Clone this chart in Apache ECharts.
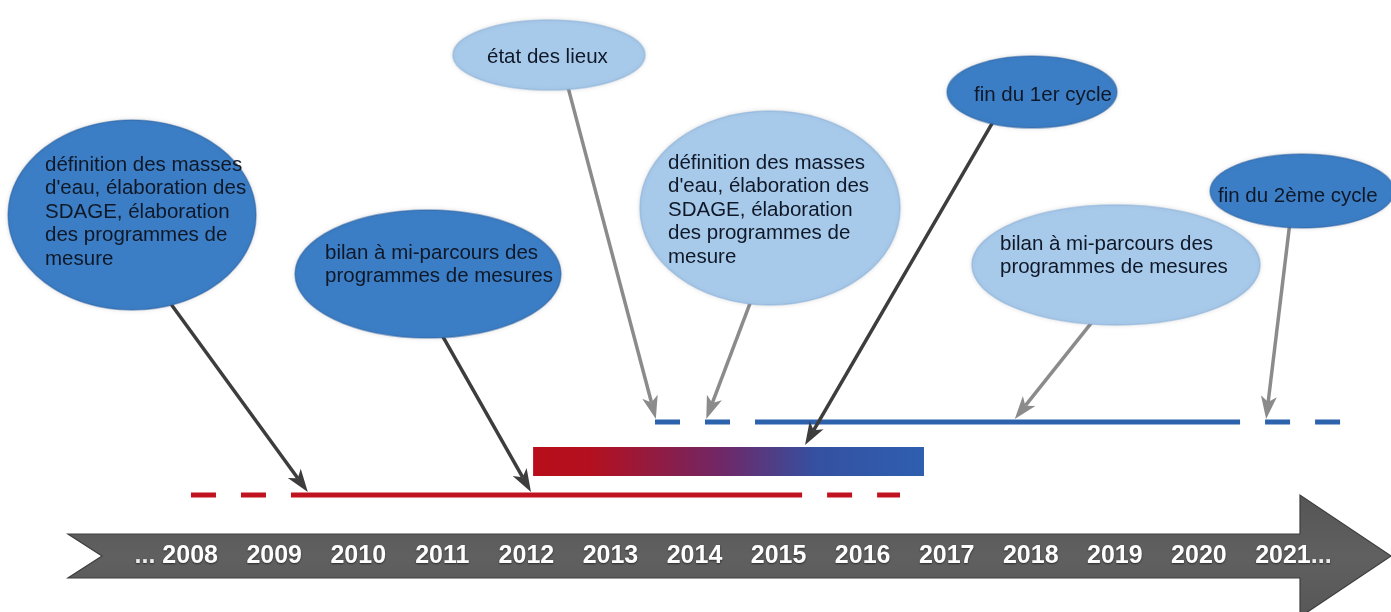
<!DOCTYPE html>
<html><head><meta charset="utf-8">
<script src="https://cdn.jsdelivr.net/npm/echarts@6/dist/echarts.min.js"></script>
<style>html,body{margin:0;padding:0;background:#fff}#c{width:1391px;height:612px}</style>
</head><body><div id="c"></div>
<script>
// ---------- data ----------
const years = [2008, 2009, 2010, 2011, 2012, 2013, 2014, 2015, 2016, 2017, 2018, 2019, 2020, 2021];
const yearLabels = ['2008', '2009', '2010', '2011', '2012', '2013', '2014', '2015', '2016', '2017', '2018', '2019', '2020', '2021'];
// [dashed start, solid start, solid end, dashed end]
const cycle1 = [2008.01, 2009.20, 2015.28, 2016.445];
const cycle2 = [2013.53, 2014.72, 2020.49, 2021.69];
const overlap = [2012.08, 2016.73];
const eventLabels = [
  "définition des masses\nd'eau, élaboration des\nSDAGE, élaboration\ndes programmes de\nmesure",
  "bilan à mi-parcours des\nprogrammes de mesures",
  "état des lieux",
  "définition des masses\nd'eau, élaboration des\nSDAGE, élaboration\ndes programmes de\nmesure",
  "fin du 1er cycle",
  "bilan à mi-parcours des\nprogrammes de mesures",
  "fin du 2ème cycle"
];
const eventYears = [2009.40, 2012.055, 2013.54, 2014.14, 2015.315, 2017.81, 2020.80];
const eventTrack = ['cycle1', 'cycle1', 'cycle2', 'cycle2', 'overlap', 'cycle2', 'cycle2'];
const eventCycle = [1, 1, 2, 2, 1, 2, 2];

// ---------- layout / style ----------
const trackY = { cycle1: 495, cycle2: 422, overlapTop: 447, overlapBottom: 476 };
const tipY = { cycle1: 492, cycle2: 419, overlap: 445 };
const band = { start: 2006.547, notch: 2006.952, headBase: 2021.203, tip: 2022.286,
               top: 534, bottom: 578, mid: 556, headTop: 495, headBottom: 617 };
const bubbleLayout = [
  { x: 2007.309, y: 215, rx: 124, ry: 95, tdx: -87, tdy: -3, sx: 2007.737, dark: true },
  { x: 2010.830, y: 274, rx: 133, ry: 64, tdx: -103, tdy: -9, sx: 2010.973, dark: true },
  { x: 2012.269, y: 55, rx: 96, ry: 35, tdx: -62, tdy: 2, sx: 2012.483, dark: false },
  { x: 2014.898, y: 208, rx: 130, ry: 97, tdx: -102, tdy: 2, sx: 2014.684, dark: false },
  { x: 2018.015, y: 92, rx: 85, ry: 36, tdx: -58, tdy: 3, sx: 2017.575, dark: true },
  { x: 2019.014, y: 265, rx: 144, ry: 60, tdx: -116, tdy: -9, sx: 2018.764, dark: false },
  { x: 2021.227, y: 191, rx: 92, ry: 37, tdx: -84, tdy: 5, sx: 2021.084, dark: true }
];
const FONT = '"Liberation Sans", Arial, sans-serif';

const chart = echarts.init(document.getElementById('c'), null, { renderer: 'canvas' });

function renderBand(params, api) {
  const p = (x, y) => api.coord([x, y]);
  const pts = [p(band.start, band.top), p(band.headBase, band.top), p(band.headBase, band.headTop),
    p(band.tip, band.mid), p(band.headBase, band.headBottom), p(band.headBase, band.bottom),
    p(band.start, band.bottom), p(band.notch, band.mid)];
  return { type: 'polygon', shape: { points: pts },
    style: { fill: new echarts.graphic.LinearGradient(0, 0, 0, 1, [
      { offset: 0, color: '#555555' }, { offset: 0.5, color: '#606060' }, { offset: 1, color: '#575757' }]),
      stroke: '#3e3e3e', lineWidth: 1.2 } };
}

function renderBar(params, api) {
  const a = api.coord([overlap[0], trackY.overlapTop]);
  const b = api.coord([overlap[1], trackY.overlapBottom]);
  return { type: 'rect', shape: { x: a[0], y: a[1], width: b[0] - a[0], height: b[1] - a[1] },
    style: { fill: new echarts.graphic.LinearGradient(0, 0, 1, 0, [
      { offset: 0, color: '#b80d1a' }, { offset: 0.15, color: '#b3101f' },
      { offset: 0.48, color: '#702766' }, { offset: 0.72, color: '#3550a0' },
      { offset: 1, color: '#2f5fb0' }]) } };
}

function renderTrack(params, api) {
  const c = params.dataIndex === 0 ? cycle1 : cycle2;
  const y = params.dataIndex === 0 ? trackY.cycle1 : trackY.cycle2;
  const color = params.dataIndex === 0 ? '#c1121f' : '#2d62ad';
  const p = v => api.coord([v, y]);
  const seg = (a, b, dash, off) => ({ type: 'line',
    shape: { x1: p(a)[0], y1: p(a)[1], x2: p(b)[0], y2: p(b)[1] },
    style: { stroke: color, lineWidth: 5, lineCap: 'butt', lineDash: dash || null, lineDashOffset: off || 0 } });
  return { type: 'group', children: [
    seg(c[0], c[1], [25, 25], 0),
    seg(c[1], c[2]),
    seg(c[2], c[3], [25, 25], 25)
  ] };
}

function stemStart(i, api) {
  const L = bubbleLayout[i];
  const c = api.coord([L.x, L.y]);
  const s = api.coord([L.sx, L.y]);
  const dx = s[0] - c[0];
  const k = Math.sqrt(Math.max(0, 1 - (dx / L.rx) * (dx / L.rx)));
  return [s[0], c[1] + L.ry * k - 6];
}

function renderArrow(params, api) {
  const i = params.dataIndex;
  const s = stemStart(i, api);
  const t = api.coord([eventYears[i], tipY[eventTrack[i]]]);
  const dx = t[0] - s[0], dy = t[1] - s[1];
  const len = Math.sqrt(dx * dx + dy * dy);
  const ux = dx / len, uy = dy / len, nx = -uy, ny = ux;
  const Lh = 23, W = 8, N = 6;
  const color = eventCycle[i] === 1 ? '#3d3d3d' : '#8b8b8b';
  const back = [t[0] - ux * Lh, t[1] - uy * Lh];
  const notch = [t[0] - ux * (Lh - N), t[1] - uy * (Lh - N)];
  return { type: 'group', children: [
    { type: 'line', shape: { x1: s[0], y1: s[1], x2: notch[0], y2: notch[1] },
      style: { stroke: color, lineWidth: 3.5 } },
    { type: 'polygon', shape: { points: [t, [back[0] + nx * W, back[1] + ny * W], notch, [back[0] - nx * W, back[1] - ny * W]] },
      style: { fill: color } }
  ] };
}

function renderBubble(params, api) {
  const i = params.dataIndex;
  const L = bubbleLayout[i];
  const c = api.coord([L.x, L.y]);
  return { type: 'group', children: [
    { type: 'ellipse', shape: { cx: c[0], cy: c[1], rx: L.rx, ry: L.ry },
      style: { fill: L.dark ? '#3c7ec5' : '#a8caea', stroke: L.dark ? 'rgba(45,100,165,0.5)' : 'rgba(140,180,220,0.6)', lineWidth: 1.5,
        shadowBlur: 4, shadowColor: 'rgba(0,0,0,0.12)' } },
    { type: 'text', style: { text: eventLabels[i], x: c[0] + L.tdx, y: c[1] + L.tdy,
        font: '20.5px ' + FONT, fill: '#0f1828', align: 'left', verticalAlign: 'middle', lineHeight: 23.5 } }
  ] };
}

const yStyle = { color: '#ffffff', fontSize: 25, fontWeight: 'bold', fontFamily: FONT,
  textShadowColor: 'rgba(0,0,0,0.55)', textShadowBlur: 2, textShadowOffsetY: 1 };

chart.setOption({
  animation: false,
  backgroundColor: '#ffffff',
  grid: { left: 22, right: 24, top: 0, bottom: 0, containLabel: false },
  xAxis: {
    type: 'value', min: 2006, max: 2022, interval: 1, z: 20,
    axisLine: { show: false }, axisTick: { show: false }, splitLine: { show: false },
    axisLabel: {
      margin: -56, verticalAlign: 'middle',
      formatter: function (v) {
        const i = years.indexOf(Math.round(v));
        if (i < 0) return '';
        if (i === 0) return '{d|... }{y|' + yearLabels[i] + '}{h|... }';
        if (i === years.length - 1) return '{h|...}{y|' + yearLabels[i] + '}{d|...}';
        return '{y|' + yearLabels[i] + '}';
      },
      rich: {
        y: yStyle,
        d: Object.assign({}, yStyle, { color: '#eeeeee' }),
        h: { color: 'rgba(0,0,0,0)', fontSize: 25, fontWeight: 'bold', fontFamily: FONT }
      }
    }
  },
  yAxis: { type: 'value', min: 0, max: 612, inverse: true, show: false },
  series: [
    { type: 'custom', renderItem: renderBand, data: [[band.start, band.mid]], silent: true },
    { type: 'custom', renderItem: renderBar, data: [[overlap[0], trackY.overlapTop]], silent: true },
    { type: 'custom', renderItem: renderTrack, data: [[cycle1[0], trackY.cycle1], [cycle2[0], trackY.cycle2]], silent: true },
    { type: 'custom', renderItem: renderArrow, data: eventYears.map((v, i) => [v, tipY[eventTrack[i]]]), silent: true },
    { type: 'custom', renderItem: renderBubble, data: bubbleLayout.map(L => [L.x, L.y]), silent: true }
  ]
});
</script></body></html>
